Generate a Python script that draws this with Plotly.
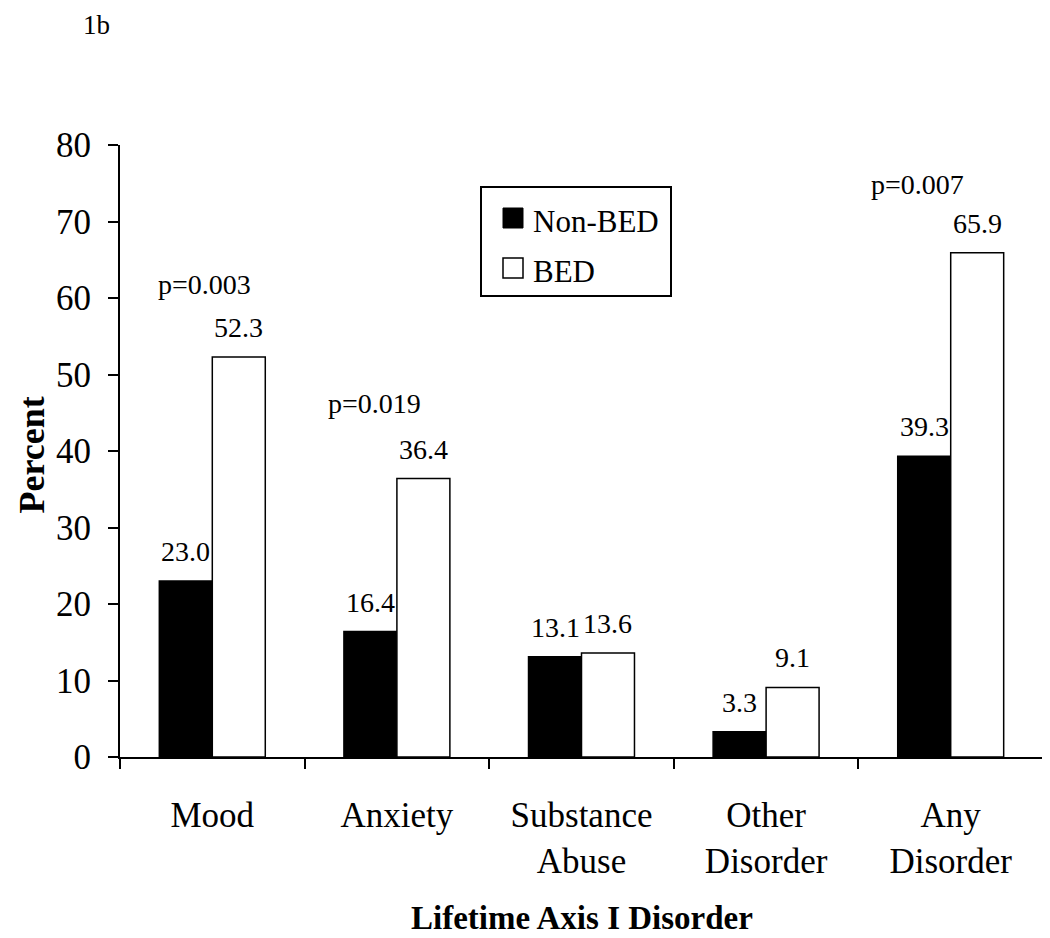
import plotly.graph_objects as go

# ---- data ----
categories = ["Mood", "Anxiety", "Substance<br>Abuse", "Other<br>Disorder", "Any<br>Disorder"]
non_bed = [23.0, 16.4, 13.1, 3.3, 39.3]
bed = [52.3, 36.4, 13.6, 9.1, 65.9]
series_names = ["Non-BED", "BED"]
p_categories = ["Mood", "Anxiety", "Any<br>Disorder"]
p_labels = ["p=0.003", "p=0.019", "p=0.007"]
y_ticks = [0, 10, 20, 30, 40, 50, 60, 70, 80]

# ---- style / layout constants ----
FONT = "Liberation Serif, Times New Roman, serif"
OFF = 8  # page body margin of the html page
W, H = 1050 - OFF, 938 - OFF
L, R, T, B = 120 - OFF, 7, 145 - OFF, 181
PW, PH = W - L - R, H - T - B
BARGAP = 0.426
p_xshift = [-8, -22, -33]
p_yshift = [55, 58, 51]


def px(xp):
    """page pixel x -> paper x"""
    return (xp - OFF - L) / PW


def py(yp):
    """page pixel y -> paper y"""
    return (H - B - (yp - OFF)) / PH


cat_w = PW / len(categories)
bar_w = cat_w * (1 - BARGAP) / 2
off = bar_w / 2

fig = go.Figure()
fig.add_trace(go.Bar(
    x=categories, y=non_bed, name=series_names[0],
    marker=dict(color="black", line=dict(color="black", width=1.5)),
    showlegend=False,
))
fig.add_trace(go.Bar(
    x=categories, y=bed, name=series_names[1],
    marker=dict(color="white", line=dict(color="black", width=1.5)),
    showlegend=False,
))

annotations = []
# value labels
for c, v in zip(categories, non_bed):
    annotations.append(dict(x=c, y=v, xref="x", yref="y", text=f"{v:.1f}",
                            showarrow=False, xanchor="center", yanchor="bottom",
                            xshift=-off, yshift=12,
                            font=dict(family=FONT, size=28, color="black")))
for c, v in zip(categories, bed):
    annotations.append(dict(x=c, y=v, xref="x", yref="y", text=f"{v:.1f}",
                            showarrow=False, xanchor="center", yanchor="bottom",
                            xshift=off, yshift=12,
                            font=dict(family=FONT, size=28, color="black")))
# p-values
for c, lab, xs, ys in zip(p_categories, p_labels, p_xshift, p_yshift):
    v = bed[categories.index(c)]
    annotations.append(dict(x=c, y=v, xref="x", yref="y", text=lab,
                            showarrow=False, xanchor="center", yanchor="bottom",
                            xshift=xs, yshift=ys,
                            font=dict(family=FONT, size=28, color="black")))

# panel label
annotations.append(dict(x=px(81), y=1, xref="paper", yref="paper", text="1b",
                        showarrow=False, xanchor="left", yanchor="top", yshift=T,
                        font=dict(family=FONT, size=27, color="black")))
# axis titles
annotations.append(dict(x=0.5, y=0, xref="paper", yref="paper",
                        text="<b>Lifetime Axis I Disorder</b>",
                        showarrow=False, xanchor="center", yanchor="bottom",
                        yshift=-B,
                        font=dict(family=FONT, size=33, color="black")))
annotations.append(dict(x=0, y=py(455.5), xref="paper", yref="paper",
                        text="<b>Percent</b>", textangle=-90,
                        showarrow=False, xanchor="left", yanchor="middle",
                        xshift=-L + 1,
                        font=dict(family=FONT, size=36, color="black")))
# legend texts
annotations.append(dict(x=px(531), y=py(221.5), xref="paper", yref="paper",
                        text=series_names[0], showarrow=False,
                        xanchor="left", yanchor="middle",
                        font=dict(family=FONT, size=31, color="black")))
annotations.append(dict(x=px(531), y=py(271.5), xref="paper", yref="paper",
                        text=series_names[1], showarrow=False,
                        xanchor="left", yanchor="middle",
                        font=dict(family=FONT, size=31, color="black")))

shapes = [
    dict(type="rect", xref="paper", yref="paper",
         x0=px(481), x1=px(671), y0=py(296), y1=py(187),
         line=dict(color="black", width=2), fillcolor="white", layer="above"),
    dict(type="rect", xref="paper", yref="paper",
         x0=px(503), x1=px(523), y0=py(228), y1=py(208),
         line=dict(color="black", width=1), fillcolor="black", layer="above"),
    dict(type="rect", xref="paper", yref="paper",
         x0=px(503), x1=px(523), y0=py(278), y1=py(258),
         line=dict(color="black", width=1.5), fillcolor="white", layer="above"),
]

fig.update_layout(
    width=W, height=H,
    margin=dict(l=L, r=R, t=T, b=B, pad=0),
    paper_bgcolor="white", plot_bgcolor="white",
    barmode="group", bargap=BARGAP, bargroupgap=0,
    showlegend=False,
    annotations=annotations,
    shapes=shapes,
    font=dict(family=FONT, color="black"),
)
fig.update_xaxes(
    showline=True, linecolor="black", linewidth=2,
    ticks="outside", tickson="boundaries", ticklen=10, tickwidth=2, tickcolor="black",
    tickfont=dict(family=FONT, size=35, color="black"),
    ticklabelstandoff=26,
    showgrid=False, zeroline=False,
)
fig.update_yaxes(
    range=[0, 80], tickvals=y_ticks,
    showline=True, linecolor="black", linewidth=2,
    ticks="outside", ticklen=10, tickwidth=2, tickcolor="black",
    tickfont=dict(family=FONT, size=35, color="black"),
    ticklabelstandoff=10,
    showgrid=False, zeroline=False,
)

fig.write_html("out.html")
